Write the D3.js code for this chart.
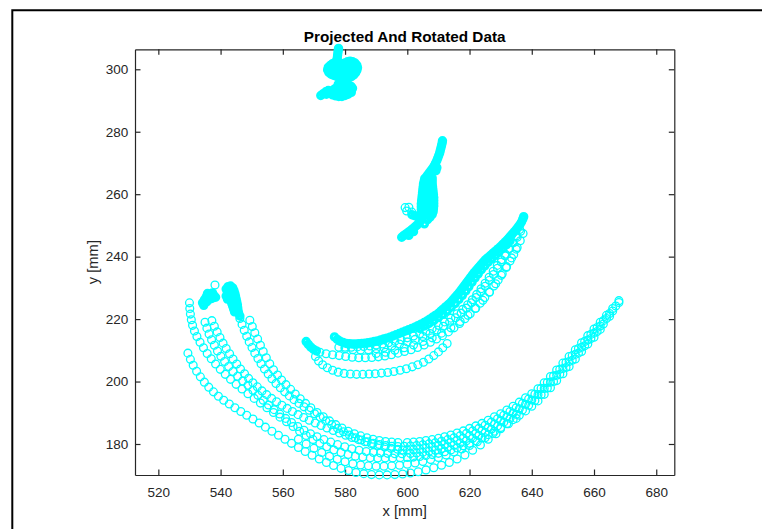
<!DOCTYPE html>
<html><head><meta charset="utf-8">
<script src="https://cdn.jsdelivr.net/npm/d3@7"></script>
<style>body{margin:0;background:#fff}svg{display:block}</style>
</head><body>
<script>
// ---- axes data ----
const titleText = "Projected And Rotated Data";
const xLabelText = "x [mm]";
const yLabelText = "y [mm]";
const xTicks = [520, 540, 560, 580, 600, 620, 640, 660, 680];
const yTicks = [180, 200, 220, 240, 260, 280, 300];
const xDomain = [512.5, 685.8];
const yDomain = [170.07, 306.4];

// ---- ring tracks (open circles) ----
const trackT1 = [[549.4,219.6],[550.2,217.6],[551,215.6],[551.9,213.6],[552.8,211.6],[553.7,209.6],[554.7,207.6],[555.8,205.7],[557,203.8],[558.3,202.1],[559.6,200.5],[561,199],[562.5,197.5],[564,196],[565.6,194.5],[567.3,193],[569,191.6],[571,190.1],[573,188.7],[575,187.4],[577,186.2],[579,185.1],[581,184.1],[583,183.3],[585,182.6],[587,182],[589,181.5],[591,181.1],[593,180.8],[595,180.6],[597,180.5],[600,180.5],[602,180.6],[604,180.8],[606,181.1],[608,181.4],[610,181.8],[612,182.3],[614,182.9],[616,183.5],[618,184.2],[620,185],[622,185.8],[624,186.6],[626,187.6],[628,188.7],[630,189.7],[632,190.9],[634,192.1],[636,193.4],[638,194.8],[640,196.1],[642,197.7],[644,199.6],[646,201.6],[648,203.7],[650,205.9],[652,208],[654,210.2],[656,212.4],[658,214.7],[660,216.8],[662,219],[664,221.2],[666,223.4],[668,225.9]];
const trackT2 = [[546.2,220.2],[546.9,218.3],[547.6,216.4],[548.4,214.5],[549.2,212.7],[550.1,210.9],[551,209.1],[552,207.4],[553,205.7],[554.1,204],[555.3,202.4],[556.5,200.9],[557.8,199.4],[559.2,198],[560.6,196.7],[562.1,195.4],[563.6,194.2],[565.2,193],[566.8,191.9],[568.5,190.8],[570.2,189.7],[572,188.6],[573.8,187.4],[575.7,186.2],[577.6,185],[579.5,183.9],[581.4,182.9],[583.3,182],[585.2,181.3],[587.1,180.7],[589,180.2],[591,179.8],[593,179.5],[595,179.3],[597,179.2],[599,179.25],[601,179.35],[603,179.5],[605,179.75],[607,180.05],[609,180.4],[611,180.85],[613,181.4],[615,182],[617,182.65],[619,183.4],[621,184.2],[623,185],[625,186],[627,187],[629,188.1],[631,189.2],[633,190.4],[635,191.6],[637,193],[639,194.4],[641,195.95],[643,197.8],[645,199.7],[647,201.8],[649,203.9],[651,206.1],[653,208.3],[655,210.6],[657,212.85],[659,215.1],[661,217.3],[663,219.5],[665,221.8],[667,224.2]];
const trackT3 = [[537.2,219.5],[538,217.7],[538.9,215.9],[539.8,214.1],[540.8,212.3],[541.8,210.6],[542.9,208.9],[544,207.2],[545.2,205.6],[546.4,204],[547.7,202.5],[549,201],[550.4,199.6],[551.8,198.3],[553.3,197],[554.8,195.8],[556.4,194.6],[558,193.5],[559.7,192.4],[561.4,191.4],[563.1,190.4],[564.9,189.4],[566.7,188.5],[568.5,187.6],[570.4,186.7],[572.3,185.9],[574.2,185.1],[576.2,184.3],[578.2,183.5],[580.2,182.8],[582.2,182.1],[584.3,181.4],[586.4,180.7],[588.5,180.1],[590.6,179.5],[592.7,179],[594.8,178.6],[596.9,178.3],[598.5,178.1],[600,178.1],[602,178.2],[604,178.4],[606,178.7],[608,179],[610,179.4],[612,179.9],[614,180.5],[616,181.1],[618,181.8],[620,182.6],[622,183.4],[624,184.3],[626,185.3],[628,186.4],[630,187.5],[632,188.7],[634,189.9],[636,191.3],[638,192.7],[640,194.1],[642,195.8],[644,197.8],[646,199.8],[648,202],[650,204.2],[652,206.4],[654,208.7],[656,211],[658,213.3],[660,215.5],[662,217.8],[664,220.2],[666,222.6],[668,225.3]];
const trackT4 = [[535,219],[535.6,217.1],[536.3,215.2],[537.1,213.4],[538,211.6],[539,209.8],[540.1,208.1],[541.3,206.4],[542.6,204.8],[544,203.2],[545.5,201.7],[547.1,200.2],[548.8,198.8],[550.4,197.2],[552,195.6],[553.7,194],[555.4,192.5],[557.2,191],[559,189.6],[560.9,188.2],[562.8,186.9],[564.8,185.6],[566.8,184.4],[568.9,183.3],[571,182.3],[573.2,181.4],[575.4,180.6],[577.6,179.8],[579.9,179.1],[582.2,178.5],[584.5,178],[586.8,177.6],[589.1,177.3],[591.4,177.1],[593.7,177],[596,176.9],[598.3,176.9],[601,176.95],[603,177.1],[605,177.35],[607,177.65],[609,178],[611,178.45],[613,179],[615,179.6],[617,180.25],[619,181],[621,181.8],[623,182.7],[625,183.7],[627,184.7],[629,185.8],[631,187],[633,188.2],[635,189.5],[637,190.9],[639,192.4],[641,193.95],[643,195.8],[645,197.9],[647,200],[649,202.3],[651,204.5],[653,206.8],[655,209.1],[657,211.45],[659,213.75],[661,216],[663,218.4],[665,220.9]];
const trackT5 = [[530,225.2],[530.1,223.4],[530.3,221.6],[530.6,219.8],[531,218],[531.6,216.2],[532.4,214.4],[533.4,212.6],[534.5,210.8],[535.7,209],[537,207.3],[538.4,205.6],[539.9,203.9],[541.5,202.3],[543.2,200.7],[545,199.1],[546.9,197.6],[548.8,196.1],[550.8,194.6],[552.8,193.1],[554.9,191.6],[557,190.1],[559.1,188.6],[561.2,187.1],[563.3,185.6],[565.4,184.1],[567.5,182.7],[569.7,181.4],[571.9,180.2],[574.1,179.1],[576.4,178.1],[578.7,177.3],[581,176.6],[583.3,176.1],[585.7,175.8],[588.1,175.6],[590.5,175.5],[592.9,175.5],[595.3,175.5],[597.7,175.6],[600,175.7],[602,175.8],[604,176],[606,176.3],[608,176.6],[610,177],[612,177.5],[614,178.1],[616,178.7],[618,179.4],[620,180.2],[622,181],[624,181.9],[626,183],[628,184.1],[630,185.3],[632,186.5],[634,187.8],[636,189.2],[638,190.6],[640,192.1],[642,193.8],[644,195.9],[646,198],[648,200.3],[650,202.5],[652,204.8],[654,207.2],[656,209.6],[658,212],[660,214.2],[662,216.7]];
const trackT6 = [[565,181.5],[567.5,180],[570,178.6],[572.5,177.3],[575,176.1],[577.5,175.1],[580,174.3],[582.5,173.7],[585,173.3],[587.5,173],[590,172.9],[592.5,172.9],[595,173],[597.5,173.2],[600,173.5],[602.5,173.9],[605,174.4],[607.5,175],[610,175.7],[612.5,176.5],[615,177.4],[617.5,178.4],[620,179.5],[622.5,180.7],[625,182],[627.5,183.4],[630,184.9],[632.5,186.5],[635,188.2]];
const trackD4 = [[529.5,209.1],[530.3,207.1],[531.2,205.2],[532.3,203.3],[533.5,201.5],[534.8,199.8],[536.2,198.2],[537.7,196.7],[539.3,195.3],[541,194],[542.8,192.8],[544.6,191.6],[546.5,190.4],[548.4,189.2],[550.4,188],[552.4,186.7],[554.4,185.4],[556.5,184.1],[558.6,182.8],[560.7,181.5],[562.8,180.2],[565,178.9],[567.2,177.6],[569.4,176.4],[571.7,175.2],[574,174.1],[576.3,173.1],[578.7,172.2],[581.1,171.5],[583.5,170.9],[586,170.5],[588.5,170.2],[591,170.1],[593.5,170.1],[596,170.2],[598.5,170.4],[601,170.7],[603.5,171.1],[606,171.7],[608.5,172.4],[611,173.2],[613.5,174.1],[616,175.2],[618.5,176.5],[621,178],[623.5,179.7],[626,181.5],[628.5,183.3]];
const trackC2 = [[571.9,209.4],[573.9,208.9],[576,208.6],[578.1,208.3],[580.2,208],[582.3,207.8],[584.4,207.6],[586.5,207.6],[588.6,207.7],[590.7,207.9],[592.8,208.2],[594.9,208.6],[597,209.1],[599.1,209.6],[601.2,210.2],[603.3,210.9],[605.4,211.7],[607.4,212.6],[609.4,213.6],[611.3,214.7],[613.2,215.9],[615,217.2],[616.8,218.6],[618.5,220.1],[620.2,221.7],[621.8,223.4],[623.4,225.1],[624.9,226.9],[626.4,228.7],[627.8,230.6],[629.2,232.5],[630.5,234.5],[631.8,236.5],[633,238.6],[634.2,240.7],[635.3,242.9],[636.3,245.1],[637.2,247.4]];
const trackC3 = [[570.5,208],[571.5,206.6],[572.8,205.4],[574.3,204.4],[576,203.6],[577.8,203],[579.7,202.6],[581.7,202.4],[583.7,202.3],[585.7,202.3],[587.7,202.4],[589.7,202.5],[591.7,202.7],[593.7,202.9],[595.7,203.2],[597.7,203.6],[599.7,204.1],[601.6,204.7],[603.4,205.4],[605.2,206.2],[606.9,207.2],[608.5,208.3],[610,209.5],[611.4,210.8],[612.8,212.2]];
const trackC4 = [[580,210.5],[582.5,210.2],[585,210.1],[587.5,210.2],[590,210.5],[592.5,210.9],[595,211.4],[597.5,212],[600,212.7],[602.5,213.5],[605,214.4],[607.3,215.4],[609.5,216.5],[611.6,217.7],[613.6,219],[615.5,220.4],[617.3,221.9],[619,223.5],[620.6,225.2],[622.1,226.9],[623.6,228.7],[625,230.5],[626.4,232.4],[627.7,234.3],[629,236.3],[630.2,238.3],[631.4,240.3],[632.6,242.4],[633.8,244.5],[635,246.6],[636.1,248.7]];
const trackC5 = [[578,211],[580,211],[582,211],[584,211.1],[586,211.2],[588,211.4],[590,211.7],[592,212],[594,212.4],[596,212.9],[598,213.4],[600,214],[602,214.6],[604,215.3],[606,216.1],[608,217],[610,218],[612,219.1],[614,220.3],[616,221.7],[617.8,223.1],[619.4,224.6],[620.9,226.2],[622.3,227.9],[623.7,229.7],[625,231.5],[626.3,233.4],[627.6,235.3],[628.9,237.2],[630.2,239],[631.5,240.8],[632.8,242.6],[634.1,244.4],[635.3,246.2],[636.4,248.1]];
const trackC6 = [[590,209],[593,209.4],[596,210],[599,210.8],[602,211.7],[605,212.8],[608,214],[611,215.5],[614,217.2],[617,219.2],[619.5,221.2],[622,223.5],[624.3,226],[626.4,228.6],[628.4,231.3],[630.2,234],[631.9,236.8],[633.5,239.6],[635,242.4]];
const looseRings = [[538.2,230.9],[599.8,254.6],[600.5,255.8],[599.3,255.7],[601.4,254.3]];

// ---- dense (heavily overlapping) clusters ----
const denseA = [[572.2,291.6],[573,292.2],[573.8,292.8],[574.6,293.2],[575.4,293],[576.2,292.5],[577,292.2],[577.8,292],[578.6,292],[579.4,292.1],[580.2,292.4],[581,292.8],[581.8,293.3],[582.4,293.9],[582,294.5],[581.2,294.8],[580.4,295],[579.6,295.2],[578.8,294.6],[578,294.2],[577.2,294],[576.5,293.6],[579.5,293.5],[578.5,293.2],[578.4,295.6],[578.8,296.4],[579.6,296.8],[580.4,297],[581.2,297.2],[582,297.6],[582.8,298.2],[583.4,298.9],[583.8,299.7],[584,300.5],[583.8,301.3],[583.2,302],[582.4,302.4],[581.6,302.6],[580.8,302.4],[580,302],[579.2,301.8],[578.4,302],[577.6,302.2],[576.8,302.2],[576,301.8],[575.2,301.2],[574.6,300.6],[574.4,299.8],[574.8,299],[575.5,298.4],[576.3,298.1],[577.1,297.8],[577.9,297.5],[578.6,297.8],[579.4,298.4],[580.2,299],[581,299.4],[581.8,299.8],[582.6,300.2],[581.8,301],[581,301],[580.2,300.6],[579.4,300.2],[578.6,300],[577.8,300.2],[577,300.4],[576.2,300.2],[575.6,299.8],[576.8,299.2],[577.4,302.9],[577.5,303.7],[577.6,304.5],[577.7,305.3],[577.8,306.1],[577.9,306.7],[575.5,300.5],[576.5,301],[577.5,301.3],[578.5,301],[579.5,301],[580.5,301.5],[582.5,301.3],[583,300],[582,299],[580.8,298.2],[579.8,297.8],[576,299],[577.5,298.7],[578.5,298.8],[579.2,299.3],[574,292],[575,292.3],[576,291.8],[577,291.5],[578,291.3],[579,291.3],[580,291.6],[581,292],[582,292.6],[580.8,293.8],[579.8,294.2],[578.8,293.8],[577.8,293.2],[576.8,293],[579.3,295.8],[577.8,295.2]];
const denseB = [[598.2,246.2],[598.9,246.8],[599.6,247.3],[600.3,247.8],[601,248.3],[601.7,248.9],[602.4,249.5],[603.1,250.1],[603.8,250.8],[604.4,251.5],[601.5,253.4],[602.4,253.1],[603.3,252.8],[604.6,252.4],[604.6,253.3],[604.5,254.2],[604.5,255.1],[604.5,256],[604.5,256.9],[604.6,257.8],[604.7,258.7],[604.8,259.6],[604.9,260.5],[605,261.4],[605.1,262.3],[605.2,263.2],[605.4,264.1],[605.6,265],[606.5,251.8],[607.3,252.6],[608,253.5],[608.3,254.4],[608.4,255.3],[608.5,256.2],[608.5,257.1],[608.5,258],[608.5,258.9],[608.4,259.8],[608.3,260.7],[608.2,261.6],[608.1,262.5],[608,263.4],[608,264.3],[608,265.2],[606.5,254],[606.5,256],[606.5,258],[606.5,260],[606.6,262],[606.7,264],[606.8,266],[606.4,266],[607,266.8],[607.6,267.6],[608.2,268.4],[608.7,269.2],[609.1,270],[609.5,270.8],[609.8,271.6],[610.1,272.4],[610.4,273.2],[610.6,274],[610.8,274.8],[611,275.6],[611.2,276.4],[611.3,277.1],[609.2,267.5],[609.5,268.5],[606.5,255],[606.5,257],[606.5,259],[606.5,261],[606.6,263],[606.7,265],[605.5,250.5],[600.5,246.8],[602,248]];
const denseLeft = [[534.2,225.2],[534.8,226.2],[535.4,227.1],[536.2,227.6],[537,227.8],[537.8,227.6],[538.4,227],[535.6,225.6],[536.4,226.4],[537.2,226.6],[534.6,224.4],[535.8,228.2],[537.4,228.4],[541.8,229.6],[542.4,230.4],[543.2,230.6],[543.9,230],[544.3,229.1],[544.6,228.2],[544.8,227.3],[545,226.4],[545.2,225.5],[545.4,224.6],[545.5,223.7],[545.6,222.8],[545.8,221.9],[546.2,221],[542.2,228.6],[542.6,227.7],[543,226.8],[543.3,225.9],[543.6,225],[543.9,224.1],[544.2,223.2],[544.5,222.3],[541.8,227.4],[542.2,226.4]];
const denseC1 = [[576.6,214.3],[577.5,213.5],[578.4,212.9],[579.4,212.5],[580.4,212.2],[581.4,212.1],[582.4,212],[583.4,212],[584.4,212.1],[585.4,212.2],[586.4,212.3],[587.4,212.4],[588.4,212.6],[589.4,212.8],[590.4,213],[591.4,213.3],[592.4,213.6],[593.4,213.9],[594.4,214.2],[595.4,214.6],[596.4,215],[597.4,215.4],[598.4,215.8],[599.4,216.2],[600.4,216.6],[601.4,217],[602.4,217.4],[603.4,217.9],[604.4,218.4],[605.4,218.9],[606.3,219.4],[607.2,220],[608.1,220.6],[609,221.2],[609.9,221.8],[610.7,222.5],[611.5,223.2],[612.3,223.9],[613.1,224.6],[613.9,225.3],[614.6,226.1],[615.3,226.9],[616,227.7],[616.7,228.5],[617.3,229.3],[617.9,230.1],[618.5,230.9],[619.1,231.7],[619.7,232.5],[620.3,233.3],[620.9,234.1],[621.5,234.9],[622.2,235.7],[622.9,236.5],[623.6,237.3],[624.3,238.1],[625,238.9],[625.8,239.6],[626.6,240.3],[627.4,241],[628.2,241.7],[629,242.4],[629.8,243.1],[630.6,243.9],[631.4,244.7],[632.2,245.5],[632.9,246.3],[633.6,247.1],[634.3,247.9],[635,248.7],[635.6,249.5],[636.2,250.3],[636.7,251.1],[637.1,252],[637.4,252.8]];
const denseC5 = [[604,217],[605.5,217.8],[607,218.6],[608.5,219.5],[610,220.5],[611.4,221.5],[612.8,222.6],[614.1,223.8],[615.4,225],[616.6,226.3],[617.7,227.6],[618.8,229],[619.8,230.4],[620.8,231.8],[621.8,233.2],[622.8,234.5],[623.8,235.8],[624.9,237],[626,238.2],[627.1,239.3],[628.3,240.4],[629.5,241.5],[630.7,242.6],[631.9,243.8],[633,245]];
const denseCHead = [[567.5,212.8],[568.2,211.9],[569,211],[569.9,210.3],[570.8,209.8]];

const ringSeries = [trackT1, trackT2, trackT3, trackT4, trackT5, trackT6, trackD4, trackC2, trackC3, trackC4, trackC5, trackC6, looseRings];
const denseSeries = [denseA, denseB, denseLeft, denseC1, denseC5, denseCHead];

// ---- drawing ----
const W = 762, H = 529;
const m = {left: 135, right: 674.3, top: 49.3, bottom: 475};
const font = "'Liberation Sans', Arial, Helvetica, sans-serif";
const axisColor = "#262626";
const cyan = "#00ffff";

const svg = d3.select("body").append("svg").attr("width", W).attr("height", H);
svg.append("rect").attr("width", W).attr("height", H).attr("fill", "#fff");

// figure frame
svg.append("path").attr("d", "M12.3,529V10.3H762").attr("fill", "none")
  .attr("stroke", "#000").attr("stroke-width", 2);

const x = d3.scaleLinear().domain(xDomain).range([m.left, m.right]);
const y = d3.scaleLinear().domain(yDomain).range([m.bottom, m.top]);

function styleAxis(g) {
  g.select(".domain").attr("stroke", axisColor).attr("stroke-width", 1.2);
  g.selectAll(".tick line").attr("stroke", axisColor).attr("stroke-width", 1.2);
  g.selectAll("text").attr("fill", axisColor).style("font-family", font).style("font-size", "13.5px");
}

svg.append("g").attr("transform", `translate(0,${m.bottom})`)
  .call(d3.axisBottom(x).tickValues(xTicks).tickSizeInner(-5.5).tickSizeOuter(0).tickPadding(12).tickFormat(d3.format("d")))
  .call(styleAxis);
svg.append("g").attr("transform", `translate(0,${m.top})`)
  .call(d3.axisTop(x).tickValues(xTicks).tickSizeInner(-5.5).tickSizeOuter(0).tickFormat(""))
  .call(styleAxis);
svg.append("g").attr("transform", `translate(${m.left},0)`)
  .call(d3.axisLeft(y).tickValues(yTicks).tickSizeInner(-5.5).tickSizeOuter(0).tickPadding(6.7).tickFormat(d3.format("d")))
  .call(styleAxis);
svg.append("g").attr("transform", `translate(${m.right},0)`)
  .call(d3.axisRight(y).tickValues(yTicks).tickSizeInner(-5.5).tickSizeOuter(0).tickFormat(""))
  .call(styleAxis);

// data
const plot = svg.append("g");
ringSeries.forEach(s => {
  plot.append("g").selectAll("circle").data(s).join("circle")
    .attr("cx", d => x(d[0])).attr("cy", d => y(d[1])).attr("r", 3.9)
    .attr("fill", "none").attr("stroke", cyan).attr("stroke-width", 1.3);
});
denseSeries.forEach(s => {
  plot.append("g").selectAll("circle").data(s).join("circle")
    .attr("cx", d => x(d[0])).attr("cy", d => y(d[1])).attr("r", 3.0)
    .attr("fill", "none").attr("stroke", cyan).attr("stroke-width", 3.4);
});

// labels
svg.append("text").attr("x", (m.left + m.right) / 2).attr("y", 42)
  .attr("text-anchor", "middle").attr("fill", "#000")
  .style("font-family", font).style("font-size", "15.3px").style("font-weight", "bold")
  .text(titleText);
svg.append("text").attr("x", (m.left + m.right) / 2).attr("y", 516)
  .attr("text-anchor", "middle").attr("fill", axisColor)
  .style("font-family", font).style("font-size", "14.8px")
  .text(xLabelText);
svg.append("text").attr("transform", `translate(97.5,${(m.top + m.bottom) / 2}) rotate(-90)`)
  .attr("text-anchor", "middle").attr("fill", axisColor)
  .style("font-family", font).style("font-size", "14.8px")
  .text(yLabelText);
</script>
</body></html>
